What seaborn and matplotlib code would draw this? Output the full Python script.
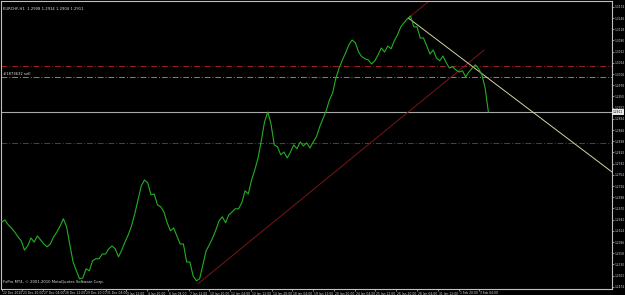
import matplotlib
matplotlib.use("Agg")
import matplotlib.pyplot as plt
import matplotlib.transforms as mtransforms
import pandas as pd
import seaborn as sns

# ---------------- data ----------------
symbol_title = "EURCHF,H1  1.2908 1.2914 1.2904 1.2911"
copyright_text = "FxPro MT4, \u00a9 2001-2010 MetaQuotes Software Corp."
order_label = "#1873632 sell"

bar_step = 5  # close sampled every 5 H1 bars
close_prices = [
    1.2636, 1.2641, 1.2629, 1.2621, 1.2611, 1.2599, 1.2589, 1.2566, 1.2576, 1.2596,
    1.2586, 1.2601, 1.2591, 1.2581, 1.2574, 1.2581, 1.2599, 1.2611, 1.2626, 1.2644,
    1.2624, 1.2579, 1.2536, 1.2514, 1.2494, 1.2496, 1.2519, 1.2514, 1.2539, 1.2544,
    1.2544, 1.2556, 1.2556, 1.2569, 1.2576, 1.2569, 1.2549, 1.2566, 1.2586, 1.2604,
    1.2626, 1.2656, 1.2691, 1.2726, 1.2741, 1.2734, 1.2704, 1.2706, 1.2679, 1.2674,
    1.2661, 1.2634, 1.2614, 1.2621, 1.2601, 1.2581, 1.2581, 1.2536, 1.2536, 1.2501,
    1.2489, 1.2494, 1.2529, 1.2564, 1.2579, 1.2596, 1.2616, 1.2639, 1.2649, 1.2634,
    1.2654, 1.2661, 1.2669, 1.2669, 1.2684, 1.2714, 1.2706, 1.2741, 1.2766, 1.2796,
    1.2839, 1.2886, 1.2911, 1.2881, 1.2829, 1.2824, 1.2804, 1.2811, 1.2796, 1.2811,
    1.2829, 1.2819, 1.2836, 1.2826, 1.2834, 1.2821, 1.2836, 1.2849, 1.2874, 1.2894,
    1.2914, 1.2941, 1.2959, 1.2996, 1.3021, 1.3041, 1.3059, 1.3079, 1.3091, 1.3084,
    1.3061, 1.3049, 1.3044, 1.3041, 1.3031, 1.3039, 1.3054, 1.3071, 1.3061, 1.3076,
    1.3069, 1.3089, 1.3104, 1.3124, 1.3134, 1.3144, 1.3151, 1.3124, 1.3124, 1.3096,
    1.3096, 1.3076, 1.3056, 1.3066, 1.3046, 1.3039, 1.3051, 1.3034, 1.3021, 1.3024,
    1.3016, 1.3011, 1.3014, 1.2999, 1.3011, 1.3021, 1.3029, 1.3019, 1.3004, 1.2971,
    1.2911,
]

date_tick_labels = [
    "22 Dec 2010", "23 Dec 20:00", "27 Dec 04:00", "28 Dec 12:00", "29 Dec 20:00",
    "31 Dec 04:00", "3 Jan 12:00", "4 Jan 20:00", "6 Jan 04:00", "7 Jan 12:00",
    "10 Jan 20:00", "12 Jan 04:00", "13 Jan 12:00", "14 Jan 20:00", "18 Jan 04:00",
    "19 Jan 12:00", "20 Jan 20:00", "24 Jan 04:00", "25 Jan 12:00", "26 Jan 20:00",
    "28 Jan 04:00", "31 Jan 12:00", "1 Feb 20:00", "3 Feb 04:00",
]
bars_per_label = 32

price_ticks = [
    1.2474, 1.2502, 1.2530, 1.2558, 1.2586, 1.2614, 1.2642, 1.2670, 1.2698, 1.2726,
    1.2754, 1.2782, 1.2810, 1.2838, 1.2866, 1.2894, 1.2922, 1.2950, 1.2978, 1.3006,
    1.3034, 1.3062, 1.3090, 1.3118, 1.3146, 1.3174,
]

last_price = 1.2911
sell_level = 1.2999
red_levels = [1.3026, 1.2834]

uptrend_bars = [302, 743.5]
uptrend_prices = [1.2481, 1.3066]
channel_bars = [626.6, 660.5]
channel_prices = [1.3146, 1.3191]
downtrend_bars = [626.6, 940.5]
downtrend_prices = [1.3146, 1.2761]

# ---------------- figure ----------------
sns.set_theme(style="dark")
plt.rcParams["font.family"] = ["DejaVu Sans"]

W, H = 625, 295
FS = 2.7
FSY = 2.1
FSX = 2.2
fig = plt.figure(figsize=(W / 100, H / 100), dpi=100, facecolor="black")
ax = fig.add_axes([0.0016, 6 / H, 611 / W, 288 / H])
ax.set_facecolor("black")

df = pd.DataFrame({
    "bar": [i * bar_step for i in range(len(close_prices))],
    "close": close_prices,
})

# horizontal levels
ax.axhline(last_price, color="#a8a8a8", lw=0.8, zorder=1)
for lv in red_levels:
    ax.axhline(lv, color="#9a2020", lw=0.7, ls=(0, (6, 2, 1, 2)), zorder=1)
ax.axhline(sell_level, color="#6f8f74", lw=0.7, ls=(0, (6, 2, 1, 2)), zorder=1)

# trend lines
ax.plot(uptrend_bars, uptrend_prices, color="#7a1515", lw=0.7, zorder=2)
ax.plot(channel_bars, channel_prices, color="#7a1515", lw=0.7, zorder=2)
ax.plot(downtrend_bars, downtrend_prices, color="#d8d4a0", lw=0.7, zorder=2)

sns.lineplot(data=df, x="bar", y="close", ax=ax, color="#22b022", lw=0.8,
             estimator=None, zorder=3)

ax.set_xlim(-1.1, 940.5)
ax.set_ylim(1.24685, 1.31885)

# y axis on the right
ax.yaxis.tick_right()
ax.set_yticks(price_ticks)
ax.set_yticklabels([f"{p:.4f}" for p in price_ticks])
ax.tick_params(axis="y", which="both", right=True, left=False, length=1.3, width=0.5,
               color="#c0c0c0", labelcolor="#d8d8d8", labelsize=FSY, pad=0.5)

# x axis date labels
xt = [i * bars_per_label for i in range(len(date_tick_labels))]
ax.set_xticks(xt)
ax.set_xticklabels(date_tick_labels, ha="left")
ax.tick_params(axis="x", which="both", bottom=True, length=1.5, width=0.5,
               color="#c0c0c0", labelcolor="#d8d8d8", labelsize=FSX, pad=0.3)
offset = mtransforms.ScaledTranslation(1.0 / 100, 0, fig.dpi_scale_trans)
for lab in ax.get_xticklabels():
    lab.set_transform(lab.get_transform() + offset)

ax.set_xlabel("")
ax.set_ylabel("")
ax.grid(False)
for s in ax.spines.values():
    s.set_color("#c0c0c0")
    s.set_linewidth(0.8)

# texts
ax.text(0.004, 0.972, symbol_title, transform=ax.transAxes, color="#e0e0e0",
        fontsize=FS, va="center", ha="left")
ax.text(0.004, 0.018, copyright_text, transform=ax.transAxes, color="#e0e0e0",
        fontsize=FS, va="bottom", ha="left")
ax.text(0.004, sell_level + 0.0006, order_label, color="#e0e0e0", fontsize=FS,
        va="center", ha="left", transform=ax.get_yaxis_transform())

# current price box on the axis
ax.annotate(f"{last_price:.4f}", xy=(1.0, last_price), xycoords=ax.get_yaxis_transform(),
            xytext=(0.6, 0), textcoords="offset points", fontsize=FSY, color="black",
            va="center", ha="left",
            bbox=dict(boxstyle="square,pad=0.2", fc="#e8e8e8", ec="none"))

fig.savefig("out.png", dpi=100, facecolor="black")
